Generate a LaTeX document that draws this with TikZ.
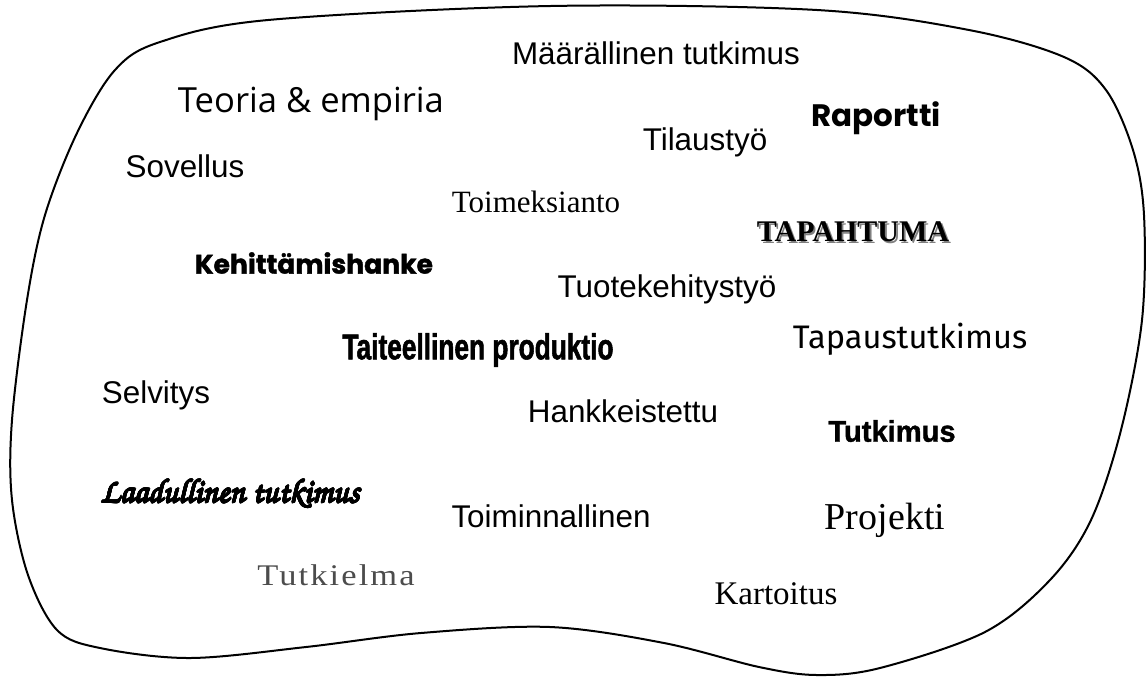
\documentclass[tikz,border=0pt]{standalone}
\usepackage[T1,TU]{fontenc}
\usepackage{fontspec}
\usepackage[copies]{contour}
\newfontfamily\arialfont{Liberation Sans}
\newfontfamily\timesfont{Liberation Serif}
\newfontfamily\opensansfont{Open Sans}
\newfontfamily\geofont{Poppins}
\newfontfamily\geoheavy{Poppins}[FakeBold=1.5]
\newfontfamily\impactfont{Liberation Sans}[FakeStretch=0.73, FakeBold=1.5]
\newfontfamily\narrowfont{Liberation Sans}[FakeStretch=0.97, FakeBold=1.2]
\newfontfamily\comicfont{Fira Sans}
\newfontfamily\engravefont{Liberation Serif}[FakeStretch=1.15, LetterSpace=7]
\newcommand{\brushfont}{\fontencoding{T1}\fontfamily{pzc}\fontseries{m}\fontshape{it}\selectfont}
\newcommand{\shadowword}[1]{\makebox[0pt][l]{\hspace{0.9pt}\raisebox{-0.9pt}{\textcolor{gray}{#1}}}#1}
\contourlength{0.35pt}

\tikzset{
  word/.style    = {inner sep=0pt, anchor=center},
  plain/.style   = {word, font=\arialfont\fontsize{15.7}{18}\selectfont},
  serif/.style   = {word, font=\timesfont\fontsize{15.5}{18}\selectfont},
  blob/.style    = {draw, line width=1pt}
}

\begin{document}
\begin{tikzpicture}[x=0.5pt, y=-0.5pt]
\useasboundingbox (0,0) rectangle (1147,677);
% outline
\draw[blob] plot[smooth cycle, tension=0.55] coordinates {
  (27,300) (45,215) (77,133) (115,70) (160,42) (268,20) (550,6)
  (817,10) (969,30) (1064,57) (1106,90) (1133,150) (1144,215)
  (1142,320) (1121,430) (1091,520) (1050,580) (985,632) (880,668)
  (817,675) (759,667) (664,643) (550,627) (421,633) (306,647)
  (190,658) (100,648) (57,630) (28,575) (12,500) (12,420)};
% words
\node[plain] (maarallinen) at (656,53) {Määrällinen tutkimus};
\node[word, font=\opensansfont\fontsize{17.3}{20}\selectfont] (teoria) at (311,104) {Teoria \& empiria};
\node[word, font=\geofont\bfseries\fontsize{15.5}{18}\selectfont] (raportti) at (876,118) {Raportti};
\node[plain] (tilaustyo) at (705,142) {Tilaustyö};
\node[plain] (sovellus) at (185,166) {Sovellus};
\node[serif] (toimeksianto) at (536,202) {Toimeksianto};
\node[word, font=\timesfont\bfseries\fontsize{15}{18}\selectfont] (tapahtuma) at (853,233) {\shadowword{TAPAHTUMA}};
\node[word, font=\geoheavy\bfseries\fontsize{13.3}{16}\selectfont] (kehittamis) at (314,263) {Kehittämishanke};
\node[plain] (tuotekehitys) at (667,289) {Tuotekehitystyö};
\node[word, font=\impactfont\bfseries\fontsize{18}{20}\selectfont] (taiteellinen) at (478,350) {Taiteellinen produktio};
\node[word, font=\comicfont\fontsize{16.3}{19}\selectfont] (tapaus) at (910,339) {Tapaustutkimus};
\node[plain] (selvitys) at (156,395) {Selvitys};
\node[plain] (hankkeistettu) at (623,411) {Hankkeistettu};
\node[word, font=\narrowfont\bfseries\fontsize{15}{18}\selectfont] (tutkimus) at (892,431) {Tutkimus};
\node[word, font=\brushfont\fontsize{16.8}{19}\selectfont] (laadullinen) at (230,494) {\contour{black}{Laadullinen tutkimus}};
\node[plain] (toiminnallinen) at (551,516) {Toiminnallinen};
\node[word, font=\timesfont\fontsize{19}{22}\selectfont] (projekti) at (885,520) {Projekti};
\node[word, font=\engravefont\fontsize{15}{18}\selectfont, text=black!70] (tutkielma) at (336,575) {Tutkielma};
\node[word, font=\timesfont\fontsize{16.5}{20}\selectfont] (kartoitus) at (776,594) {Kartoitus};
\end{tikzpicture}
\end{document}
